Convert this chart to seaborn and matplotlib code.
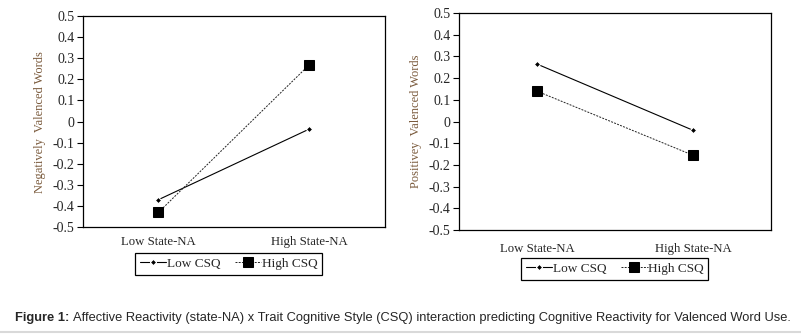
import numpy as np
import pandas as pd
import matplotlib
matplotlib.use('Agg')
import matplotlib.pyplot as plt
import seaborn as sns
from matplotlib.lines import Line2D

# %%
# values
states = ['Low State-NA', 'High State-NA']
neg_low_csq = [-0.37, -0.035]
neg_high_csq = [-0.43, 0.27]
pos_low_csq = [0.265, -0.04]
pos_high_csq = [0.14, -0.155]
yticks = [0.5, 0.4, 0.3, 0.2, 0.1, 0, -0.1, -0.2, -0.3, -0.4, -0.5]

sns.set_style('white')
plt.rcParams['font.family'] = ['Liberation Serif', 'DejaVu Serif']
plt.rcParams['axes.unicode_minus'] = False

fig = plt.figure(figsize=(8.01, 3.34), dpi=100)
ax1 = fig.add_axes([0.1036, 0.320, 0.377, 0.632])
ax2 = fig.add_axes([0.573, 0.311, 0.3895, 0.650])


def draw_panel(ax, low, high, ylabel, leg_anchor, xpad):
    sns.lineplot(x=states, y=low, ax=ax, color='black', lw=0.8, marker='D',
                 markersize=3.2, label='Low CSQ', sort=False)
    sns.lineplot(x=states, y=high, ax=ax, color='#222222', lw=0.7, marker='s',
                 markersize=6.5, markerfacecolor='black', markeredgecolor='black',
                 linestyle=(0, (2, 1.3)), label='High CSQ', sort=False)
    ax.set_xlim(-0.5, 1.5)
    ax.set_ylim(-0.5, 0.5)
    ax.set_yticks(yticks)
    ax.set_yticklabels([('%g' % t) for t in yticks])
    ax.tick_params(axis='y', which='both', left=True, length=4, width=0.8,
                   labelsize=10, pad=2, color='black')
    ax.tick_params(axis='x', bottom=False, labelsize=9.2, pad=xpad)
    ax.set_xlabel('')
    ax.set_ylabel(ylabel, color='#7a5a3c', fontsize=9, labelpad=5)
    for s in ax.spines.values():
        s.set_color('black')
        s.set_linewidth(0.9)
    leg = ax.legend(loc='upper center', bbox_to_anchor=leg_anchor, ncol=2,
                    fancybox=False, edgecolor='black', fontsize=9.5,
                    handlelength=2.0, columnspacing=1.1, handletextpad=0.05,
                    borderpad=0.35, borderaxespad=0, framealpha=1)
    leg.get_frame().set_linewidth(0.9)


draw_panel(ax1, neg_low_csq, neg_high_csq, 'Negatively  Valenced Words', (0.483, -0.123), 3)
draw_panel(ax2, pos_low_csq, pos_high_csq, 'Positivey  Valenced Words', (0.50, -0.129), 6)

# caption, sized to span the same width as the original
cap_font = ['Liberation Sans', 'DejaVu Sans']
cap_rest = ('Affective Reactivity (state-NA) x Trait Cognitive Style (CSQ) '
            'interaction predicting Cognitive Reactivity for Valenced Word Use.')
cap_y = 1 - 318 / 334
t1 = fig.text(15 / 801, cap_y, 'Figure 1:', family=cap_font, fontweight='bold',
              fontsize=10, va='center', ha='left')
t2 = fig.text(0, cap_y, cap_rest, family=cap_font, fontsize=10, va='center', ha='left')
fig.canvas.draw()
total = t1.get_window_extent().width + 4 + t2.get_window_extent().width
fs = 10 * 778 / total
t1.set_fontsize(fs)
t2.set_fontsize(fs)
fig.canvas.draw()
t2.set_x((t1.get_window_extent().x1 + 4) / fig.bbox.width)
fig.add_artist(Line2D([0, 1], [0.005, 0.005], color='#d9d9d9', lw=1.5))

fig.savefig('out.png', dpi=100)
